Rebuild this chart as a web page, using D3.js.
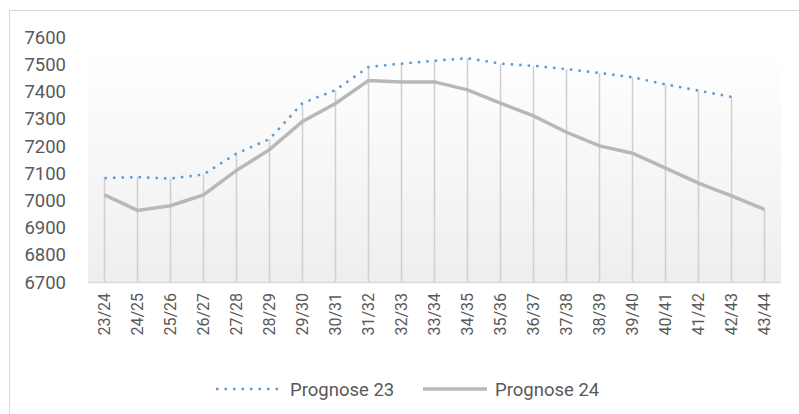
<!DOCTYPE html>
<html>
<head>
  <title>Prognose</title>
  <script src="https://d3js.org/d3.v7.min.js"></script>
  <style>
    body { margin: 0; background: #fff; }
    text { font-family: Roboto, "Open Sans", sans-serif; fill: #595959; }
  </style>
</head>
<body>
<script>
// chart data
var categories = ["23/24","24/25","25/26","26/27","27/28","28/29","29/30","30/31","31/32","32/33",
  "33/34","34/35","35/36","36/37","37/38","38/39","39/40","40/41","41/42","42/43","43/44"];
var prognose23 = [7082, 7085, 7080, 7095, 7172, 7225, 7357, 7405, 7490, 7502,
  7513, 7522, 7502, 7494, 7482, 7468, 7452, 7426, 7403, 7380, null];
var prognose24 = [7020, 6963, 6980, 7020, 7110, 7186, 7290, 7356, 7440, 7435,
  7435, 7406, 7357, 7310, 7250, 7200, 7173, 7118, 7063, 7016, 6967];
var yTicks = [6700, 6800, 6900, 7000, 7100, 7200, 7300, 7400, 7500, 7600];
var seriesNames = ["Prognose 23", "Prognose 24"];

var width = 799, height = 414;
var svg = d3.select("body").append("svg").attr("width", width).attr("height", height);

// outer chart border (runs off the right/bottom edge)
svg.append("rect").attr("x", 9.5).attr("y", 10.5).attr("width", 800).attr("height", 420)
  .attr("fill", "none").attr("stroke", "#d9d9d9").attr("stroke-width", 1);

var x = d3.scalePoint().domain(categories).range([88, 781]).padding(0.5);
var y = d3.scaleLinear().domain([6700, 7600]).range([282, 37]);

// plot area gradient
var grad = svg.append("defs").append("linearGradient").attr("id", "bg")
  .attr("x1", 0).attr("y1", 0).attr("x2", 0).attr("y2", 1);
grad.append("stop").attr("offset", "0%").attr("stop-color", "#ffffff");
grad.append("stop").attr("offset", "100%").attr("stop-color", "#eeeeee");
svg.append("rect").attr("x", 88).attr("y", 48).attr("width", 693).attr("height", 282 - 48)
  .attr("fill", "url(#bg)");

// drop lines
svg.append("g").selectAll("line").data(categories).enter().append("line")
  .attr("x1", function(d) { return x(d); })
  .attr("x2", function(d) { return x(d); })
  .attr("y1", function(d, i) { return y(Math.max(prognose23[i] || 0, prognose24[i])); })
  .attr("y2", y(6700))
  .attr("stroke", "#cfcfcf").attr("stroke-width", 1.5);

// x axis line
svg.append("line").attr("x1", 88).attr("x2", 781).attr("y1", 282.5).attr("y2", 282.5)
  .attr("stroke", "#d9d9d9").attr("stroke-width", 1.5);

// y labels
svg.append("g").selectAll("text").data(yTicks).enter().append("text")
  .attr("x", 66).attr("y", function(d) { return y(d); }).attr("dy", "0.36em")
  .attr("text-anchor", "end").style("font-size", "18.5px")
  .text(function(d) { return d; });

// x labels, rotated
svg.append("g").selectAll("text").data(categories).enter().append("text")
  .attr("transform", function(d) { return "translate(" + x(d) + ",293) rotate(-90)"; })
  .attr("dy", "0.36em").attr("text-anchor", "end").style("font-size", "16px")
  .text(function(d) { return d; });

var line = d3.line()
  .defined(function(d) { return d != null; })
  .x(function(d, i) { return x(categories[i]); })
  .y(function(d) { return y(d); });

svg.append("path").datum(prognose24).attr("d", line)
  .attr("fill", "none").attr("stroke", "#b8b8b8").attr("stroke-width", 3.5);

svg.append("path").datum(prognose23).attr("d", line)
  .attr("fill", "none").attr("stroke", "#5b9bd5").attr("stroke-width", 2.5)
  .attr("stroke-dasharray", "2.5,6");

// legend
var legend = svg.append("g");
legend.append("line").attr("x1", 216).attr("x2", 279).attr("y1", 389).attr("y2", 389)
  .attr("stroke", "#5b9bd5").attr("stroke-width", 2.5).attr("stroke-dasharray", "2.5,6");
legend.append("text").attr("x", 290).attr("y", 389).attr("dy", "0.36em")
  .style("font-size", "18.5px").text(seriesNames[0]);
legend.append("line").attr("x1", 423).attr("x2", 487).attr("y1", 389).attr("y2", 389)
  .attr("stroke", "#b8b8b8").attr("stroke-width", 3.5);
legend.append("text").attr("x", 495).attr("y", 389).attr("dy", "0.36em")
  .style("font-size", "18.5px").text(seriesNames[1]);
</script>
</body>
</html>
